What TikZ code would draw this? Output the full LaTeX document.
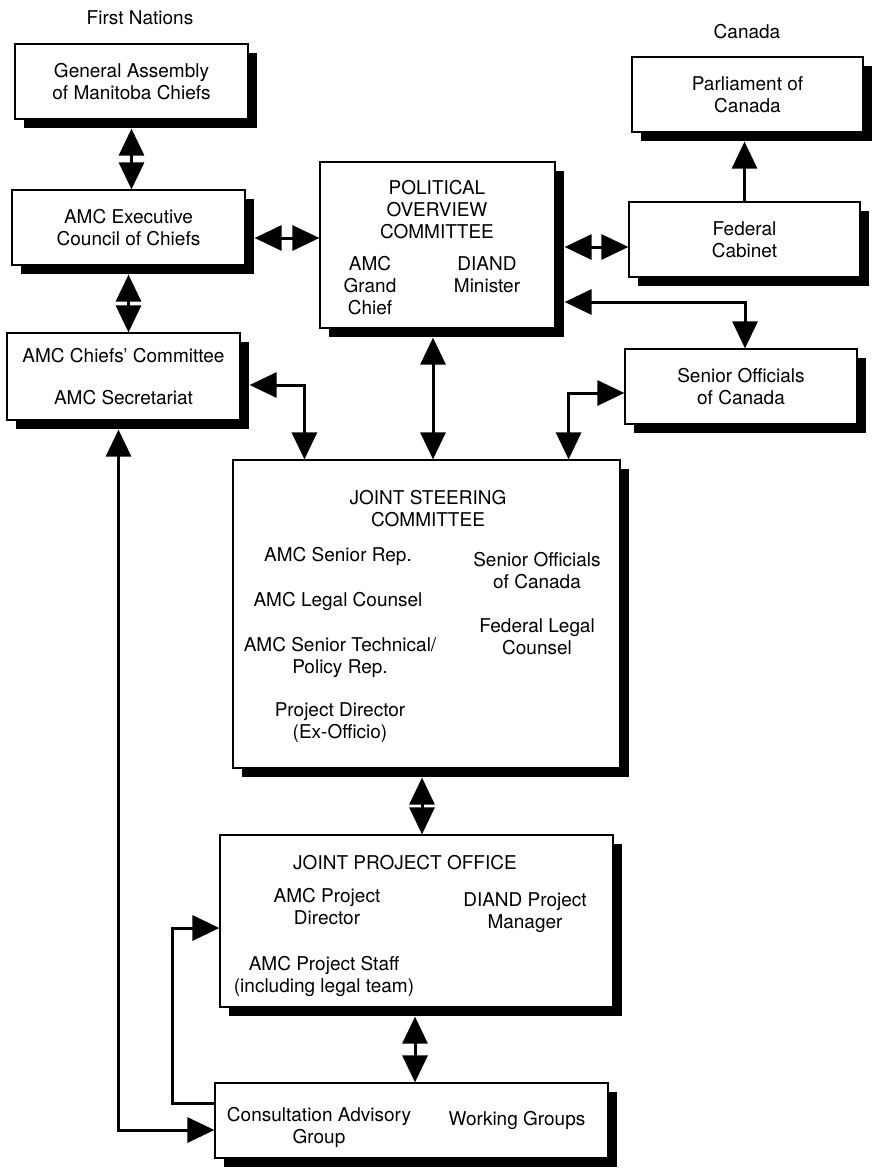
\documentclass[tikz,border=0pt]{standalone}
\usepackage{fontspec}
\setmainfont{TeX Gyre Heros}
\usetikzlibrary{arrows.meta, calc, shadows}
\tikzset{org box/.style={draw, line width=1.2pt, fill=white, minimum width=233pt, minimum height=75pt, align=center, inner sep=2pt,
    drop shadow={shadow xshift=9pt, shadow yshift=-9pt, fill=black, opacity=1}},
  in text/.style={align=center, inner sep=0pt},
  two way/.style={line width=3pt, {Triangle[length=27pt,width=25pt]}-{Triangle[length=27pt,width=25pt]}},
  one way/.style={line width=3pt, -{Triangle[length=27pt,width=25pt]}},}

\begin{document}
\begin{tikzpicture}[x=1pt, y=-1pt, font=\fontsize{19}{22}\selectfont]
				\useasboundingbox (0,0) rectangle (873,1172);
				% Sides
				\node[in text] (fn) at (140,18) {First Nations};
				\node[in text] (ca) at (747,32) {Canada};
				% First Nations boxes
				\node[org box] (gen) at (131.5,81.5) {General Assembly\\of Manitoba Chiefs};
				\node[org box] (exec) at (128.5,227.5) {AMC Executive\\Council of Chiefs};
				\node[org box, minimum height=87pt] (chiefs) at (123.5,376.5) {AMC Chiefs' Committee\\[20pt]AMC Secretariat};
				% Canada boxes
				\node[org box, minimum width=231pt] (parl) at (747.5,94.5) {Parliament of\\Canada};
				\node[org box, minimum width=231pt] (fed) at (744.5,239.5) {Federal\\Cabinet};
				\node[org box, minimum width=232pt] (soc) at (741,386.5) {Senior Officials\\of Canada};
				% Political overview committee
				\node[org box, minimum width=235pt, minimum height=166pt] (poc) at (437.5,245) {};
				\node[in text] (poct) at (437,210) {POLITICAL\\OVERVIEW\\COMMITTEE};
				\node[in text] (gc) at (370,286) {AMC\\Grand\\Chief};
				\node[in text] (dm) at (487,275) {DIAND\\Minister};
				% Joint steering committee
				\node[org box, minimum width=387pt, minimum height=308pt] (jsc) at (426.5,614) {};
				\node[in text] (jsct) at (428,509) {JOINT STEERING\\COMMITTEE};
				\node[in text] (sr) at (338,556) {AMC Senior Rep.};
				\node[in text] (lc) at (338,601) {AMC Legal Counsel};
				\node[in text] (tp) at (340,657) {AMC Senior Technical/\\Policy Rep.};
				\node[in text] (pd) at (340,723) {Project Director\\(Ex-Officio)};
				\node[in text] (so) at (537,571) {Senior Officials\\of Canada};
				\node[in text] (fl) at (537,637) {Federal Legal\\Counsel};
				% Joint project office
				\node[org box, minimum width=393pt, minimum height=172pt] (jpo) at (416.5,921) {};
				\node[in text] (jpot) at (405,863) {JOINT PROJECT OFFICE};
				\node[in text] (apd) at (327,907) {AMC Project\\Director};
				\node[in text] (dpm) at (525,913) {DIAND Project\\Manager};
				\node[in text] (aps) at (324,976) {AMC Project Staff\\(including legal team)};
				% Consultation / working groups
				\node[org box, minimum width=393pt] (cag) at (411.5,1120.5) {};
				\node[in text] (cagt) at (319,1127) {Consultation Advisory\\Group};
				\node[in text] (wg) at (517,1120) {Working Groups};
				% Arrows
				\draw[two way] ($(gen.south)+(0,9)$) -- (gen.south |- exec.north);
				\draw[two way] ($(exec.south)+(0,9)$) -- (exec.south |- chiefs.north);
				\draw[two way] ($(exec.east)+(9,10.5)$) -- ($(poc.west)+(0,-7)$);
				\draw[two way] ($(poc.east)+(9,2)$) -- ($(fed.west)+(0,7.5)$);
				\draw[one way] (fed.north) -- ($(fed.north |- parl.south)+(0,9)$);
				\draw[two way] ($(poc.east)+(9,57)$) -| ($(soc.north)+(4,0)$);
				\draw[two way] ($(poc.south)+(-4.5,9)$) -- ($(poc.south |- jsc.north)+(-4.5,0)$);
				\draw[two way] ($(chiefs.east)+(9,8.5)$) -| ($(jsc.north west)+(72,0)$);
				\draw[two way] ($(soc.west)+(0,6.5)$) -| ($(jsc.north east)+(-52,0)$);
				\draw[two way] ($(jsc.south)+(-4.5,9)$) -- ($(jsc.south |- jpo.north)+(-4.5,0)$);
				\draw[two way] ($(jpo.south)+(-1.5,9)$) -- ($(jpo.south |- cag.north)+(-1.5,0)$);
				\draw[two way] ($(chiefs.south)+(-5,9)$) |- ($(cag.west)+(0,9.5)$);
				\draw[one way] ($(cag.west)+(0,-17.5)$) -- ++(-42,0) |- ($(jpo.west)+(0,7)$);
			\end{tikzpicture}
\end{document}
